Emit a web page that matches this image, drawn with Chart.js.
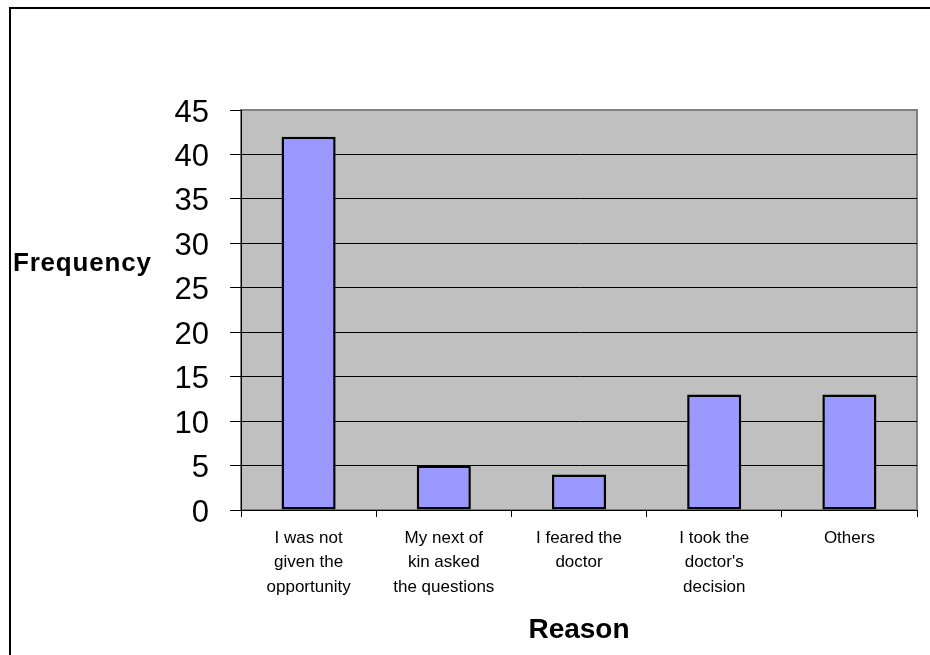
<!DOCTYPE html>
<html>
<head>
<meta charset="utf-8">
<script src="https://cdn.jsdelivr.net/npm/chart.js@4.4.1/dist/chart.umd.min.js"></script>
<style>
    html, body { margin: 0; padding: 0; background: #fff; overflow: hidden; }
    #frame {
        position: absolute; left: 9px; top: 7px; width: 2000px; height: 2000px;
        border-left: 2px solid #000; border-top: 2px solid #000;
    }
    #myChartReason { position: absolute; left: 0; top: 0; }
</style>
</head>
<body>
<div id="frame"></div>
<canvas id="myChartReason" width="930" height="655"></canvas>
<script>
const reasonLabels = [
    ['I was not', 'given the', 'opportunity'],
    ['My next of', 'kin asked', 'the questions'],
    ['I feared the', 'doctor'],
    ['I took the', "doctor's", 'decision'],
    ['Others']
];
const frequencyValues = [42, 5, 4, 13, 13];
const yTicks = [0, 5, 10, 15, 20, 25, 30, 35, 40, 45];

const yAxisTitle = 'Frequency';
const xAxisTitle = 'Reason';

Chart.defaults.font.family = '"Liberation Sans", Arial, sans-serif';
Chart.defaults.color = '#000';

// gray plot area with a thin gray frame, like the old spreadsheet charts
const plotBackground = {
    id: 'plotBackground',
    beforeDraw(chart) {
        const { ctx, chartArea } = chart;
        ctx.save();
        ctx.fillStyle = '#C0C0C0';
        ctx.fillRect(chartArea.left, chartArea.top, chartArea.right - chartArea.left, chartArea.bottom - chartArea.top);
        ctx.strokeStyle = '#808080';
        ctx.lineWidth = 2;
        ctx.strokeRect(chartArea.left, chartArea.top, chartArea.right - chartArea.left, chartArea.bottom - chartArea.top);
        ctx.restore();
    }
};

// horizontal y axis title, left of the tick labels
const sideTitle = {
    id: 'sideTitle',
    afterDraw(chart) {
        const ctx = chart.ctx;
        ctx.save();
        ctx.font = 'bold 26px "Liberation Sans", Arial, sans-serif';
        ctx.letterSpacing = '0.8px';
        ctx.fillStyle = '#000';
        ctx.textAlign = 'left';
        ctx.textBaseline = 'alphabetic';
        ctx.fillText(yAxisTitle, 13, 271);
        ctx.restore();
    }
};

function createChartReason() {
    const ctxReason = document.getElementById('myChartReason').getContext('2d');
    return new Chart(ctxReason, {
        type: 'bar',
        data: {
            labels: reasonLabels,
            datasets: [{
                label: yAxisTitle,
                data: frequencyValues,
                backgroundColor: '#9999FF',
                borderColor: '#000',
                borderWidth: 2.5,
                borderSkipped: false,
                barPercentage: 0.4,
                categoryPercentage: 1
            }]
        },
        options: {
            responsive: false,
            animation: false,
            devicePixelRatio: 1,
            layout: { padding: { left: 0, top: 110, right: 13, bottom: 0 } },
            plugins: {
                legend: { display: false },
                tooltip: { enabled: false }
            },
            scales: {
                x: {
                    afterFit(scale) { scale.height = 145; },
                    grid: {
                        offset: true,
                        drawOnChartArea: false,
                        drawTicks: true,
                        tickLength: 7,
                        tickColor: '#000'
                    },
                    border: { display: true, color: '#000', width: 1 },
                    ticks: {
                        padding: 9,
                        maxRotation: 0,
                        autoSkip: false,
                        font: { size: 17, lineHeight: 1.44 }
                    },
                    title: {
                        display: true,
                        text: xAxisTitle,
                        font: { size: 28, weight: 'bold' },
                        padding: { top: 0, bottom: 8 }
                    }
                },
                y: {
                    min: 0,
                    max: 45,
                    afterFit(scale) { scale.width = 241; },
                    afterBuildTicks(scale) { scale.ticks = yTicks.map(v => ({ value: v })); },
                    grid: {
                        color: c => (c.tick && c.tick.value === 45 ? '#808080' : '#000'),
                        lineWidth: 1,
                        drawTicks: true,
                        tickLength: 11,
                        tickColor: '#000'
                    },
                    border: { display: true, color: '#000', width: 1 },
                    ticks: {
                        padding: 21,
                        labelOffset: 3,
                        font: { size: 31 }
                    }
                }
            }
        },
        plugins: [plotBackground, sideTitle]
    });
}

const myChartReason = createChartReason();
</script>
</body>
</html>
